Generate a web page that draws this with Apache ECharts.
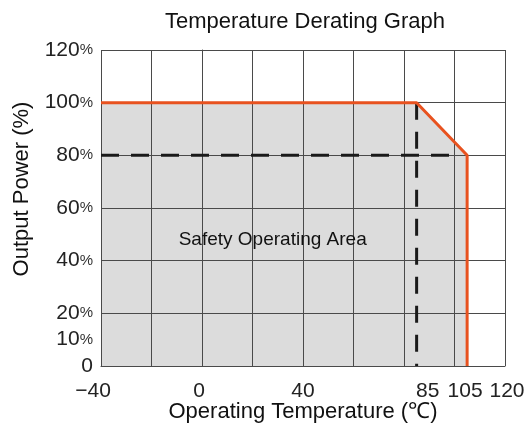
<!DOCTYPE html>
<html>
<head>
<meta charset="utf-8">
<script src="https://cdn.jsdelivr.net/npm/echarts@6/dist/echarts.min.js"></script>
<style>html,body{margin:0;padding:0;background:#fff}#c{width:528px;height:430px}</style>
</head>
<body>
<div id="c"></div>
<script>
const title = 'Temperature Derating Graph';
const xName = 'Operating Temperature (℃)';
const yName = 'Output Power (%)';
const areaLabel = 'Safety Operating Area';
const xTickLabels = [-40, 0, 40, 85, 105, 120];
const yTickLabels = [0, 10, 20, 40, 60, 80, 100, 120];
const curveTemp = [-40, 85, 105, 105];
const curvePower = [100, 100, 80, 0];
const dashH = [[-40, 80], [101, 80]];
const dashV = [[85, 100], [85, 0]];
const labelPos = [28, 48];

const chart = echarts.init(document.getElementById('c'));
const font = 'Liberation Sans, Arial, sans-serif';
const gridColor = '#4a4a4a';
const xLabelShift = { '-40': -8, '0': -3, '40': 0, '85': 11, '105': -2, '120': 2 };
const xRich = {};
xTickLabels.forEach((v, i) => {
  const d = xLabelShift[String(v)] || 0;
  xRich['l' + i] = { fontFamily: font, fontSize: 21, color: '#222',
    padding: d >= 0 ? [0, 0, 0, 2 * d] : [0, -2 * d, 0, 0] };
});
chart.setOption({
  animation: false,
  title: { text: title, left: 300, top: 6, textAlign: 'center',
    textStyle: { fontFamily: font, fontSize: 22, fontWeight: 'normal', color: '#111' } },
  grid: { left: 101, right: 23, top: 50, bottom: 64, outerBoundsMode: 'none', containLabel: false },
  xAxis: {
    type: 'value', min: -40, max: 120, interval: 20, z: 2,
    name: xName, nameLocation: 'middle', nameGap: 35, nameMoveOverlap: false,
    nameTextStyle: { fontFamily: font, fontSize: 22, color: '#111' },
    axisLine: { show: true, lineStyle: { color: gridColor, width: 1 } },
    axisTick: { show: false },
    splitLine: { show: true, lineStyle: { color: gridColor, width: 1 } },
    axisLabel: { customValues: xTickLabels, margin: 15, hideOverlap: false,
      formatter: v => {
        const i = xTickLabels.indexOf(v);
        const t = v < 0 ? '\u2212' + Math.abs(v) : String(v);
        return '{l' + i + '|' + t + '}';
      },
      rich: xRich }
  },
  yAxis: {
    type: 'value', min: 0, max: 120, interval: 20, z: 2,
    name: yName, nameLocation: 'middle', nameGap: 68,
    nameTextStyle: { fontFamily: font, fontSize: 22, color: '#111', padding: [0, 0, 0, 38] },
    axisLine: { show: true, lineStyle: { color: gridColor, width: 1 } },
    axisTick: { show: false },
    splitLine: { show: true, lineStyle: { color: gridColor, width: 1 } },
    axisLabel: { customValues: yTickLabels, margin: 8, hideOverlap: false,
      formatter: v => v === 0 ? '{n|0}' : '{n|' + v + '}{p|%}',
      rich: { n: { fontFamily: font, fontSize: 21, color: '#222' }, p: { fontFamily: font, fontSize: 15, color: '#333' } } }
  },
  series: [
    {
      type: 'line', data: curveTemp.map((t, i) => [t, curvePower[i]]),
      symbol: 'none', z: 1,
      lineStyle: { width: 0, opacity: 0 },
      areaStyle: { color: '#dcdcdc', opacity: 1 }
    },
    {
      type: 'line', data: curveTemp.map((t, i) => [t, curvePower[i]]),
      symbol: 'none', z: 5,
      lineStyle: { color: '#e8521f', width: 3 }
    },
    {
      type: 'line', data: dashH, symbol: 'none', z: 4,
      lineStyle: { color: '#1a1a1a', width: 3, type: [18, 12] }
    },
    {
      type: 'line', data: dashV, symbol: 'none', z: 4,
      lineStyle: { color: '#1a1a1a', width: 3, type: [17, 12] }
    },
    {
      type: 'scatter', data: [labelPos], symbolSize: 1, silent: true, z: 6,
      itemStyle: { color: '#dcdcdc', opacity: 1 },
      label: { show: true, formatter: areaLabel, position: 'inside', fontFamily: font, fontSize: 19,
        color: '#111', opacity: 1, textBorderWidth: 0 }
    }
  ]
});
</script>
</body>
</html>
